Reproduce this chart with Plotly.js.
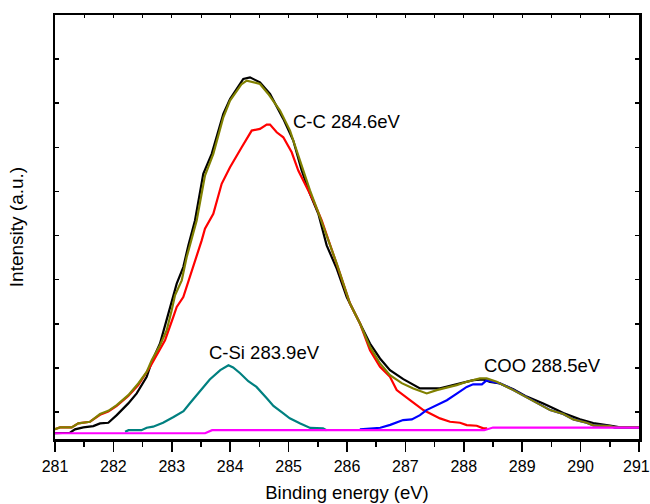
<!DOCTYPE html>
<html>
<head>
<meta charset="utf-8">
<script src="https://cdn.plot.ly/plotly-3.0.1.min.js"></script>
<style>html,body{margin:0;padding:0;background:#fff;}#chart{width:650px;height:504px;}</style>
</head>
<body>
<div id="chart"></div>
<script>
// Raw spectrum (black)
const rawEnergy = [281.00,281.257,281.342,281.485,281.656,281.771,281.913,282.057,282.255,282.399,282.570,282.656,282.798,282.969,283.084,283.197,283.283,283.397,283.539,283.683,283.882,283.997,284.224,284.339,284.510,284.682,284.909,285.080,285.224,285.366,285.509,285.652,285.824,285.995,286.223,286.394,286.565,286.736,286.964,287.250,287.592,287.764,287.935,288.163,288.334,288.449,288.620,288.848,289.077,289.361,289.562,289.704,289.990,290.217,290.503,290.675,291.017];
const rawIntensity = [-0.475,-0.468,-0.391,-0.346,-0.317,-0.256,-0.242,-0.068,0.197,0.423,0.799,1.138,1.554,2.382,2.912,3.287,3.778,4.344,5.400,5.853,6.758,7.097,7.550,7.586,7.473,7.210,6.645,6.154,5.475,4.948,4.495,3.778,3.251,2.609,2.007,1.554,1.215,0.950,0.747,0.536,0.536,0.588,0.649,0.724,0.740,0.686,0.649,0.520,0.351,0.197,0.068,-0.023,-0.165,-0.249,-0.305,-0.346,-0.346];

// C-C component (red)
const ccEnergy = [280.914,281.086,281.286,281.399,281.599,281.771,281.913,282.057,282.255,282.426,282.627,282.741,282.884,283.026,283.084,283.197,283.312,283.426,283.512,283.568,283.711,283.854,283.997,284.197,284.368,284.510,284.625,284.682,284.796,284.909,285.053,285.166,285.281,285.423,285.567,285.680,285.880,286.051,286.223,286.394,286.565,286.736,286.851,287.079,287.307,287.592,287.764,287.935,288.050,288.221,288.334,288.40];
const ccIntensity = [-0.423,-0.346,-0.346,-0.256,-0.219,-0.060,0.015,0.140,0.365,0.611,1.025,1.290,1.629,2.156,2.382,2.609,3.061,3.514,3.891,4.156,4.495,5.174,5.550,6.002,6.380,6.419,6.516,6.516,6.342,6.229,5.889,5.475,5.174,4.796,4.344,3.891,3.138,2.459,2.007,1.403,1.025,0.799,0.498,0.271,0.045,-0.143,-0.219,-0.242,-0.294,-0.310,-0.369,-0.369];

// C-Si component (teal)
const csiEnergy = [282.20,282.26,282.48,282.57,282.68,282.85,283.03,283.20,283.31,283.48,283.65,283.83,283.97,284.05,284.17,284.31,284.45,284.63,284.74,284.91,285.02,285.20,285.37,285.59,285.65];
const csiIntensity = [-0.446,-0.41,-0.41,-0.355,-0.33,-0.24,-0.11,0.02,0.20,0.46,0.74,0.95,1.06,1.01,0.88,0.70,0.57,0.31,0.14,-0.03,-0.14,-0.26,-0.36,-0.37,-0.41];

// COO component (blue)
const cooEnergy = [286.22,286.57,286.74,286.96,287.11,287.25,287.36,287.54,287.71,287.88,288.05,288.16,288.31,288.39,288.51,288.62,288.85,289.08,289.30,289.48,289.70,289.88,290.10,290.22,290.50,290.59,291.02];
const cooIntensity = [-0.39,-0.355,-0.29,-0.18,-0.165,-0.07,0.045,0.16,0.27,0.42,0.57,0.63,0.63,0.72,0.69,0.65,0.50,0.33,0.16,0.045,-0.045,-0.165,-0.24,-0.30,-0.32,-0.35,-0.35];

// Fitted envelope (olive)
const fitEnergy = [280.914,281.086,281.286,281.399,281.599,281.771,281.913,282.057,282.255,282.426,282.570,282.656,282.798,282.913,282.998,283.055,283.170,283.255,283.426,283.568,283.711,283.882,283.997,284.197,284.283,284.510,284.652,284.853,285.024,285.195,285.366,285.538,285.680,285.824,286.051,286.223,286.394,286.565,286.736,286.937,287.135,287.365,287.536,287.707,287.878,288.050,288.277,288.392,288.563,288.848,289.077,289.305,289.476,289.704,289.875,290.104,290.218,290.503,290.589,291.017];
const fitIntensity = [-0.423,-0.346,-0.346,-0.256,-0.219,-0.045,0.029,0.158,0.385,0.649,0.912,1.176,1.516,1.855,2.308,2.647,2.986,3.514,4.344,5.362,5.853,6.681,7.059,7.437,7.511,7.437,7.210,6.833,6.380,5.701,5.023,4.419,3.891,3.364,2.459,2.007,1.477,1.102,0.837,0.656,0.536,0.423,0.498,0.550,0.611,0.686,0.762,0.762,0.686,0.498,0.333,0.158,0.045,-0.045,-0.165,-0.242,-0.301,-0.317,-0.346,-0.346];

// Background (magenta)
const bgEnergy = [280.95,283.57,283.69,288.35,288.50,291.02];
const bgIntensity = [-0.48,-0.48,-0.41,-0.41,-0.35,-0.35];

// Peak labels
const labelTexts = ['C-C 284.6eV','C-Si 283.9eV','COO 288.5eV'];
const labelEnergy = [285.04,283.60,288.31];
const labelIntensity = [6.58,1.36,1.06];

const xTickVals = [281,282,283,284,285,286,287,288,289,290,291];
const yTickVals = [0,1,2,3,4,5,6,7,8,9];

const lastTick = xTickVals[xTickVals.length - 1];

const lw = 2.2;
const traces = [
  {x: rawEnergy, y: rawIntensity, mode: 'lines', line: {color: '#000000', width: lw}},
  {x: ccEnergy, y: ccIntensity, mode: 'lines', line: {color: '#ff0000', width: lw}},
  {x: csiEnergy, y: csiIntensity, mode: 'lines', line: {color: '#008080', width: lw}},
  {x: cooEnergy, y: cooIntensity, mode: 'lines', line: {color: '#0000ff', width: lw}},
  {x: fitEnergy, y: fitIntensity, mode: 'lines', line: {color: '#808000', width: lw}},
  {x: bgEnergy, y: bgIntensity, mode: 'lines', line: {color: '#ff00ff', width: lw}},
  {x: [281, 291], y: [null, null], xaxis: 'x2', mode: 'lines', showlegend: false, hoverinfo: 'skip'}
];

const font = {family: 'Liberation Sans, Arial, sans-serif', color: '#000'};

const peakAnnotations = labelTexts.map((t, i) => ({
  x: labelEnergy[i], y: labelIntensity[i], xref: 'x', yref: 'y',
  text: t, showarrow: false, xanchor: 'left', yanchor: 'middle',
  font: Object.assign({size: 18.5}, font)
}));

// last tick label placed as annotation so it stays inside the page edge
const edgeTickLabel = {
  x: lastTick, y: -0.064, xref: 'x', yref: 'paper', xshift: -3,
  text: String(lastTick), showarrow: false, xanchor: 'center', yanchor: 'middle',
  borderpad: 0, font: Object.assign({size: 16}, font)
};

const layout = {
  width: 650, height: 504,
  margin: {l: 55, r: 11, t: 15, b: 65},
  paper_bgcolor: '#fff', plot_bgcolor: '#fff',
  showlegend: false,
  font: Object.assign({size: 16}, font),
  xaxis: {
    range: [281, 291], tickvals: xTickVals,
    ticktext: xTickVals.map(v => v === lastTick ? '' : String(v)),
    ticks: 'outside', ticklen: 10, tickwidth: 1.5, tickcolor: '#000',
    ticklabelstandoff: 1,
    minor: {dtick: 0.5, ticks: 'outside', ticklen: 5, tickwidth: 1.5, tickcolor: '#000'},
    showline: true, linewidth: 2.5, linecolor: '#000', mirror: true,
    showgrid: false, zeroline: false,
    tickfont: Object.assign({size: 16}, font),
    title: {text: 'Binding energy (eV)', font: Object.assign({size: 18.5}, font), standoff: 13}
  },
  xaxis2: {
    overlaying: 'x', side: 'top', range: [281, 291], dtick: 0.5, tick0: 281,
    ticks: 'inside', ticklen: 3, tickwidth: 1, tickcolor: '#000',
    showticklabels: false, showline: false, showgrid: false, zeroline: false
  },
  yaxis: {
    range: [-0.61, 9], tickvals: yTickVals, showticklabels: false,
    ticks: 'inside', ticklen: 4, tickwidth: 1.5, tickcolor: '#000',
    showline: true, linewidth: 2.5, linecolor: '#000', mirror: 'ticks',
    showgrid: false, zeroline: false,
    title: {text: 'Intensity (a.u.)', font: Object.assign({size: 19}, font), standoff: 24}
  },
  annotations: peakAnnotations.concat([edgeTickLabel])
};

Plotly.newPlot('chart', traces, layout, {staticPlot: true, displayModeBar: false});
</script>
</body>
</html>
